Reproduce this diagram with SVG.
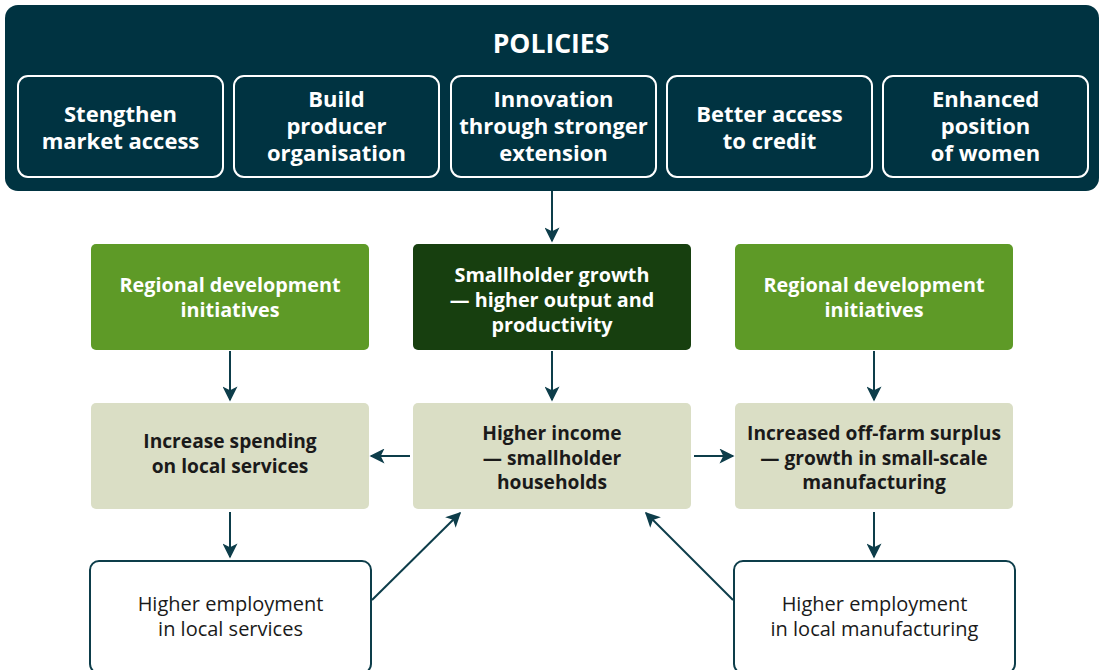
<svg xmlns="http://www.w3.org/2000/svg" width="1101" height="670" viewBox="0 0 1101 670">
<style>
.t{font-family:"Open Sans","Noto Sans",sans-serif;text-anchor:middle}
.pol{fill:#ffffff;font-size:22px;font-weight:700}
.w{fill:#ffffff;font-size:19.8px;font-weight:700}
.d{fill:#1a1a1a;font-size:19.2px;font-weight:700}
.n{fill:#1a1a1a;font-size:20px;font-weight:500}
.pb{fill:none;stroke:#ffffff;stroke-width:2}
.c{stroke:#0d3d4a;stroke-width:2;fill:none;marker-end:url(#ah2)}
</style>
<defs>
<marker id="ah2" viewBox="0 0 10 10" refX="9" refY="5" markerWidth="18" markerHeight="15" markerUnits="userSpaceOnUse" orient="auto">
<path d="M0,0 L10,5 L0,10 L2.5,5 Z" fill="#0d3d4a"/>
</marker>
</defs>
<rect width="1101" height="670" fill="#ffffff"/>
<g id="policies">
<rect x="5" y="5" width="1094" height="186" rx="13" fill="#003341"/>
<text class="t" x="551" y="53" fill="#ffffff" font-size="26.5" font-weight="700">POLICIES</text>
</g>
<g id="p1"><rect class="pb" x="18" y="76" width="205" height="101" rx="10"/>
<text class="t pol" x="120.5" y="122">Stengthen</text><text class="t pol" x="120.5" y="149">market access</text></g>
<g id="p2"><rect class="pb" x="234" y="76" width="205" height="101" rx="10"/>
<text class="t pol" x="336.5" y="107">Build</text><text class="t pol" x="336.5" y="134">producer</text><text class="t pol" x="336.5" y="161">organisation</text></g>
<g id="p3"><rect class="pb" x="451" y="76" width="205" height="101" rx="10"/>
<text class="t pol" x="553.5" y="107">Innovation</text><text class="t pol" x="553.5" y="134">through stronger</text><text class="t pol" x="553.5" y="161">extension</text></g>
<g id="p4"><rect class="pb" x="667" y="76" width="205" height="101" rx="10"/>
<text class="t pol" x="769.5" y="122">Better access</text><text class="t pol" x="769.5" y="149">to credit</text></g>
<g id="p5"><rect class="pb" x="883" y="76" width="205" height="101" rx="10"/>
<text class="t pol" x="985.5" y="107">Enhanced</text><text class="t pol" x="985.5" y="134">position</text><text class="t pol" x="985.5" y="161">of women</text></g>

<g id="rdi-left"><rect x="91" y="244" width="278" height="106" rx="5" fill="#5e9a27"/>
<text class="t w" x="230" y="292">Regional development</text><text class="t w" x="230" y="317">initiatives</text></g>
<g id="smallholder"><rect x="413" y="244" width="278" height="106" rx="5" fill="#173f0f"/>
<text class="t w" x="552" y="282">Smallholder growth</text><text class="t w" x="552" y="307">— higher output and</text><text class="t w" x="552" y="332">productivity</text></g>
<g id="rdi-right"><rect x="735" y="244" width="278" height="106" rx="5" fill="#5e9a27"/>
<text class="t w" x="874" y="292">Regional development</text><text class="t w" x="874" y="317">initiatives</text></g>

<g id="spending"><rect x="91" y="403" width="278" height="106" rx="5" fill="#dadec5"/>
<text class="t d" x="230" y="448">Increase spending</text><text class="t d" x="230" y="473">on local services</text></g>
<g id="income"><rect x="413" y="403" width="278" height="106" rx="5" fill="#dadec5"/>
<text class="t d" x="552" y="440">Higher income</text><text class="t d" x="552" y="465">— smallholder</text><text class="t d" x="552" y="489">households</text></g>
<g id="surplus"><rect x="735" y="403" width="278" height="106" rx="5" fill="#dadec5"/>
<text class="t d" x="874" y="440">Increased off-farm surplus</text><text class="t d" x="874" y="465">— growth in small-scale</text><text class="t d" x="874" y="489">manufacturing</text></g>

<g id="emp-services"><rect x="90" y="561" width="281" height="112" rx="9" fill="#ffffff" stroke="#0d3d4a" stroke-width="2"/>
<text class="t n" x="230.5" y="611">Higher employment</text><text class="t n" x="230.5" y="636">in local services</text></g>
<g id="emp-manu"><rect x="734" y="561" width="281" height="112" rx="9" fill="#ffffff" stroke="#0d3d4a" stroke-width="2"/>
<text class="t n" x="874.5" y="611">Higher employment</text><text class="t n" x="874.5" y="636">in local manufacturing</text></g>

<g id="connectors">
<line class="c" x1="552" y1="191" x2="552" y2="241"/>
<line class="c" x1="230" y1="351" x2="230" y2="400"/>
<line class="c" x1="552" y1="351" x2="552" y2="400"/>
<line class="c" x1="874" y1="351" x2="874" y2="400"/>
<line class="c" x1="410" y1="456" x2="371" y2="456"/>
<line class="c" x1="694" y1="456" x2="733" y2="456"/>
<line class="c" x1="230" y1="512" x2="230" y2="557"/>
<line class="c" x1="874" y1="512" x2="874" y2="557"/>
<line class="c" x1="372" y1="600" x2="460" y2="513"/>
<line class="c" x1="733" y1="600" x2="646" y2="513"/>
</g>
</svg>
